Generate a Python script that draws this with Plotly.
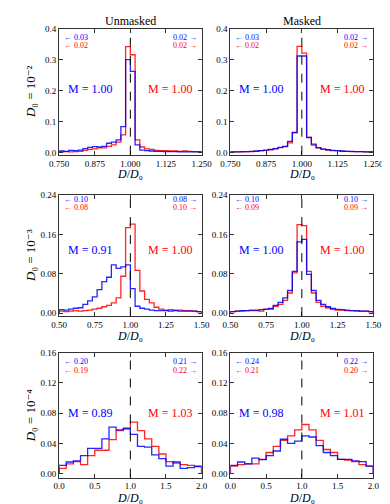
import plotly.graph_objects as go

# ---------------- data ----------------
row_ranges = [(0.75, 1.25), (0.5, 1.5), (0.0, 2.0)]
row_nbins = [30, 30, 20]
row_ylims = [(-0.007, 0.4), (-0.006, 0.24), (-0.005, 0.16)]

xtick_vals = [[0.75, 0.875, 1.0, 1.125, 1.25], [0.5, 0.75, 1.0, 1.25, 1.5], [0.0, 0.5, 1.0, 1.5, 2.0]]
xtick_text = [["0.750", "0.875", "1.000", "1.125", "1.250"],
              ["0.50", "0.75", "1.00", "1.25", "1.50"],
              ["0.0", "0.5", "1.0", "1.5", "2.0"]]
ytick_vals = [[0.0, 0.1, 0.2, 0.3, 0.4], [0.0, 0.08, 0.16, 0.24], [0.0, 0.04, 0.08, 0.12, 0.16]]
ytick_text = [["0.0", "0.1", "0.2", "0.3", "0.4"], ["0.00", "0.08", "0.16", "0.24"],
              ["0.00", "0.04", "0.08", "0.12", "0.16"]]

row_labels = ["<i>D</i>₀ = 10⁻²", "<i>D</i>₀ = 10⁻³", "<i>D</i>₀ = 10⁻⁴"]
col_titles = ["Unmasked", "Masked"]
x_title = "<i>D</i>/<i>D</i>₀"

# histogram heights (blue, red) per panel [row][col]
blue_1u = [0.005, 0.004, 0.007, 0.006, 0.008, 0.013, 0.017, 0.019, 0.018, 0.02, 0.03, 0.034, 0.041, 0.084,
           0.30, 0.262, 0.025, 0.008, 0.006, 0.005, 0.004, 0.004, 0.003, 0.003, 0.003, 0.002, 0.002, 0.002,
           0.002, 0.002]
red_1u = [0.002, 0.003, 0.002, 0.003, 0.004, 0.007, 0.01, 0.012, 0.015, 0.015, 0.02, 0.025, 0.034, 0.057,
          0.342, 0.316, 0.041, 0.018, 0.012, 0.01, 0.007, 0.006, 0.006, 0.005, 0.005, 0.004, 0.005, 0.004,
          0.003, 0.003]
blue_1m = [0.002, 0.002, 0.003, 0.003, 0.004, 0.005, 0.006, 0.008, 0.01, 0.013, 0.017, 0.02, 0.036, 0.065,
           0.312, 0.312, 0.048, 0.027, 0.016, 0.011, 0.009, 0.007, 0.006, 0.005, 0.004, 0.004, 0.003, 0.003,
           0.002, 0.002]
red_1m = [0.002, 0.002, 0.002, 0.003, 0.003, 0.004, 0.006, 0.007, 0.009, 0.012, 0.016, 0.019, 0.031, 0.064,
          0.343, 0.321, 0.05, 0.024, 0.015, 0.011, 0.008, 0.006, 0.006, 0.004, 0.004, 0.003, 0.003, 0.003,
          0.002, 0.002]
blue_2u = [0.007, 0.006, 0.008, 0.01, 0.011, 0.018, 0.025, 0.033, 0.048, 0.064, 0.073, 0.098, 0.091, 0.094,
           0.098, 0.05, 0.014, 0.01, 0.008, 0.006, 0.005, 0.005, 0.005, 0.004, 0.005, 0.004, 0.004, 0.004,
           0.004, 0.003]
red_2u = [0.004, 0.003, 0.004, 0.005, 0.004, 0.005, 0.006, 0.008, 0.01, 0.013, 0.016, 0.021, 0.031, 0.075,
          0.174, 0.181, 0.087, 0.045, 0.028, 0.021, 0.012, 0.008, 0.006, 0.007, 0.006, 0.006, 0.005, 0.005,
          0.004, 0.003]
blue_2m = [0.003, 0.004, 0.005, 0.005, 0.006, 0.006, 0.007, 0.0075, 0.0095, 0.016, 0.022, 0.031, 0.046, 0.085,
           0.145, 0.15, 0.079, 0.046, 0.026, 0.018, 0.013, 0.0095, 0.0075, 0.007, 0.006, 0.005, 0.005, 0.004,
           0.004, 0.003]
red_2m = [0.003, 0.004, 0.004, 0.005, 0.005, 0.005, 0.004, 0.008, 0.008, 0.014, 0.018, 0.026, 0.041, 0.082,
          0.18, 0.178, 0.085, 0.041, 0.022, 0.014, 0.011, 0.008, 0.006, 0.006, 0.005, 0.005, 0.004, 0.004,
          0.004, 0.003]
blue_3u = [0.011, 0.0155, 0.017, 0.024, 0.0335, 0.0335, 0.046, 0.0615, 0.058, 0.06, 0.052, 0.036, 0.035,
           0.025, 0.02, 0.01, 0.0155, 0.007, 0.008, 0.0095]
red_3u = [0.007, 0.013, 0.016, 0.012, 0.024, 0.031, 0.031, 0.045, 0.057, 0.059, 0.068, 0.057, 0.046, 0.036,
          0.026, 0.016, 0.014, 0.012, 0.011, 0.01]
blue_3m = [0.011, 0.0155, 0.013, 0.0205, 0.0185, 0.024, 0.03, 0.0455, 0.04, 0.043, 0.05, 0.0485, 0.037, 0.028,
           0.024, 0.019, 0.019, 0.017, 0.016, 0.01]
red_3m = [0.01, 0.012, 0.013, 0.013, 0.019, 0.028, 0.036, 0.044, 0.05, 0.058, 0.065, 0.058, 0.044, 0.032,
          0.028, 0.019, 0.018, 0.016, 0.012, 0.01]

blue_data = [[blue_1u, blue_1m], [blue_2u, blue_2m], [blue_3u, blue_3m]]
red_data = [[red_1u, red_1m], [red_2u, red_2m], [red_3u, red_3m]]

# out-of-range fractions: [blue_left, red_left, blue_right, red_right]
outside = [[("0.03", "0.02", "0.02", "0.02"), ("0.03", "0.02", "0.02", "0.02")],
           [("0.10", "0.08", "0.08", "0.10"), ("0.10", "0.09", "0.10", "0.09")],
           [("0.20", "0.19", "0.21", "0.22"), ("0.24", "0.21", "0.22", "0.20")]]
means = [[("1.00", "1.00"), ("1.00", "1.00")],
         [("0.91", "1.00"), ("1.00", "1.00")],
         [("0.89", "1.03"), ("0.98", "1.01")]]

# ---------------- layout geometry (pixels) ----------------
W, H = 390, 504
col_px = [(43.5, 194.0), (224.5, 375.5)]
row_px = [(16.0, 144.0), (185.0, 308.0), (345.0, 472.0)]
xtitle_px = [164, 328, 493]
outside_px = [(24.5, 33.5), (189.5, 198.0), (354.5, 363.0)]
mean_px = [77, 241, 406]

BLUE = "#0000ff"
RED = "#ff0000"
FONT = "Liberation Serif, DejaVu Serif, serif"
AXC = "#333333"

fig = go.Figure()
layout = dict(width=W, height=H, margin=dict(l=0, r=0, t=0, b=0), paper_bgcolor="white",
              plot_bgcolor="white", showlegend=False, font=dict(family=FONT, color="black", size=9))
annotations = []
shapes = []


def step_xy(lo, hi, n, vals):
    w = (hi - lo) / n
    edges = [lo + i * w for i in range(n + 1)]
    xs = [edges[0]] + edges[:-1] + [edges[-1], edges[-1]]
    ys = [0.0] + list(vals) + [vals[-1], 0.0]
    return xs, ys


k = 0
for r in range(3):
    for c in range(2):
        k += 1
        xa = "xaxis" if k == 1 else f"xaxis{k}"
        ya = "yaxis" if k == 1 else f"yaxis{k}"
        xr = "x" if k == 1 else f"x{k}"
        yr = "y" if k == 1 else f"y{k}"
        x0, x1 = col_px[c]
        y0, y1 = row_px[r]
        lo, hi = row_ranges[r]
        layout[xa] = dict(domain=[x0 / W, x1 / W], range=[lo, hi], anchor=yr, showgrid=False,
                          zeroline=False, showline=True, mirror="allticks", linecolor=AXC, linewidth=1,
                          ticks="inside", ticklen=4, tickcolor=AXC, tickvals=xtick_vals[r],
                          ticktext=xtick_text[r], tickfont=dict(size=9, family=FONT))
        layout[ya] = dict(domain=[1 - y1 / H, 1 - y0 / H], range=list(row_ylims[r]), anchor=xr,
                          showgrid=False, zeroline=False, showline=True, mirror="allticks", linecolor=AXC,
                          linewidth=1, ticks="inside", ticklen=4, tickcolor=AXC, tickvals=ytick_vals[r],
                          ticktext=ytick_text[r], tickfont=dict(size=9, family=FONT))
        n = row_nbins[r]
        xs, ys = step_xy(lo, hi, n, red_data[r][c])
        fig.add_trace(go.Scatter(x=xs, y=ys, mode="lines", line=dict(color=RED, width=1.3, shape="hv"),
                                 opacity=0.85, xaxis=xr, yaxis=yr, hoverinfo="skip"))
        xs, ys = step_xy(lo, hi, n, blue_data[r][c])
        fig.add_trace(go.Scatter(x=xs, y=ys, mode="lines", line=dict(color=BLUE, width=1.3, shape="hv"),
                                 opacity=0.85, xaxis=xr, yaxis=yr, hoverinfo="skip"))
        # dashed line at D/D0 = 1
        shapes.append(dict(type="line", xref=xr, yref=f"{yr} domain", x0=1.0, x1=1.0, y0=0, y1=1,
                           line=dict(color="black", width=1, dash="dash")))
        # out-of-range annotations
        bl, rl, br, rr = outside[r][c]
        ya1, ya2 = outside_px[r]
        for txt, yy, col, side in [("← " + bl, ya1, BLUE, "l"), ("← " + rl, ya2, RED, "l"),
                                   (br + " →", ya1, BLUE, "r"), (rr + " →", ya2, RED, "r")]:
            annotations.append(dict(
                text=txt, xref=f"{xr} domain", yref="paper",
                x=0.02 if side == "l" else 0.98, y=1 - yy / H,
                xanchor="left" if side == "l" else "right", yanchor="middle",
                showarrow=False, font=dict(size=8, color=col, family=FONT)))
        # mean annotations
        mb, mr = means[r][c]
        ymean = mean_px[r]
        annotations.append(dict(text="M = " + mb, xref=f"{xr} domain", yref="paper", x=0.216,
                                y=1 - ymean / H, xanchor="center", yanchor="middle", showarrow=False,
                                font=dict(size=12, color=BLUE, family=FONT)))
        annotations.append(dict(text="M = " + mr, xref=f"{xr} domain", yref="paper", x=0.78,
                                y=1 - ymean / H, xanchor="center", yanchor="middle", showarrow=False,
                                font=dict(size=12, color=RED, family=FONT)))
        # x axis title
        annotations.append(dict(text=x_title, xref="paper", yref="paper",
                                x=(x0 + x1) / 2 / W, y=1 - xtitle_px[r] / H, xanchor="center",
                                yanchor="middle", showarrow=False, font=dict(size=12, family=FONT)))
    # row label
    annotations.append(dict(text=row_labels[r], xref="paper", yref="paper", x=13 / W,
                            y=1 - (row_px[r][0] + row_px[r][1]) / 2 / H, xanchor="center",
                            yanchor="middle", textangle=-90, showarrow=False,
                            font=dict(size=13, family=FONT)))

for c in range(2):
    annotations.append(dict(text=col_titles[c], xref="paper", yref="paper",
                            x=(col_px[c][0] + col_px[c][1]) / 2 / W, y=1 - 8 / H, xanchor="center",
                            yanchor="middle", showarrow=False, font=dict(size=12, family=FONT)))

layout["annotations"] = annotations
layout["shapes"] = shapes
fig.update_layout(**layout)
fig.write_html("out.html")
